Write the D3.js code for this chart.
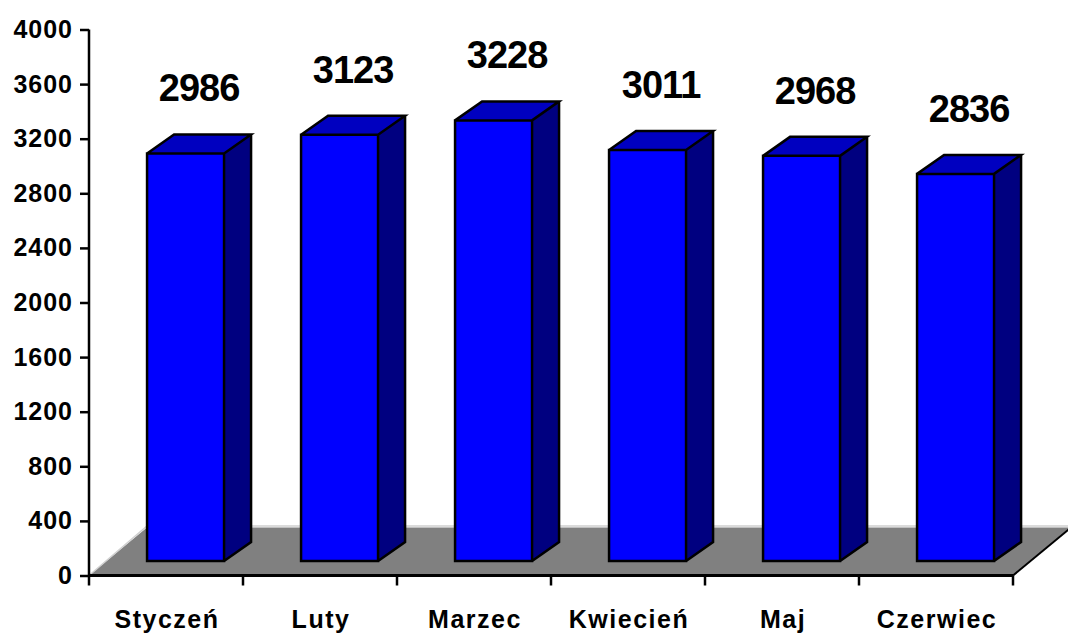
<!DOCTYPE html>
<html>
<head>
<meta charset="utf-8">
<script src="https://cdn.jsdelivr.net/npm/d3@7"></script>
<style>
  body { margin: 0; background: #fff; }
  text { font-family: Arial, "Liberation Sans", sans-serif; font-weight: bold; }
</style>
</head>
<body>
<div id="chart"></div>
<script>
// data
const months = ["Styczeń", "Luty", "Marzec", "Kwiecień", "Maj", "Czerwiec"];
const values = [2986, 3123, 3228, 3011, 2968, 2836];
const yTicks = [0, 400, 800, 1200, 1600, 2000, 2400, 2800, 3200, 3600, 4000];

const width = 1068, height = 635;

// 3d look
const floorDepth = { dx: 58, dy: -48 };
const barDepth = { dx: 27, dy: -19 };
const barLift = 14.5; // bars sit back from the front edge of the floor

const svg = d3.select("#chart").append("svg")
  .attr("width", width)
  .attr("height", height);

const x = d3.scaleBand()
  .domain(months)
  .range([89, 1013])
  .padding(0);

const y = d3.scaleLinear()
  .domain([0, 4000])
  .range([575.5, 29.5]);

// floor
const x0 = x.range()[0], x1 = x.range()[1], y0 = y(0);
svg.append("polygon")
  .attr("points", [
    [x0, y0], [x1, y0],
    [x1 + floorDepth.dx, y0 + floorDepth.dy],
    [x0 + floorDepth.dx, y0 + floorDepth.dy]
  ].join(" "))
  .attr("fill", "#808080");

// light back/left edges of the floor
svg.append("path")
  .attr("d", `M${x0},${y0} L${x0 + floorDepth.dx},${y0 + floorDepth.dy - 1.5} L${x1 + floorDepth.dx},${y0 + floorDepth.dy - 1.5}`)
  .attr("fill", "none")
  .attr("stroke", "#d0d0d0")
  .attr("stroke-width", 1.5);

// right edge of the floor
svg.append("line")
  .attr("x1", x1).attr("y1", y0)
  .attr("x2", x1 + floorDepth.dx).attr("y2", y0 + floorDepth.dy)
  .attr("stroke", "#000")
  .attr("stroke-width", 2);

// bars
const barOff = x.bandwidth() * 0.377, barW = x.bandwidth() * 0.5;
const bars = svg.append("g")
  .selectAll("g")
  .data(months.map((m, i) => ({ m, v: values[i] })))
  .join("g");

bars.each(function (d) {
  const g = d3.select(this);
  const l = x(d.m) + barOff, r = l + barW;
  const b = y(0) - barLift, t = y(d.v) - barLift;
  const { dx, dy } = barDepth;

  // side
  g.append("polygon")
    .attr("points", [[r, b], [r + dx, b + dy], [r + dx, t + dy], [r, t]].join(" "))
    .attr("fill", "#000080");
  // top
  g.append("polygon")
    .attr("points", [[l, t], [r, t], [r + dx, t + dy], [l + dx, t + dy]].join(" "))
    .attr("fill", "#0000c0");
  // front
  g.append("rect")
    .attr("x", l).attr("y", t)
    .attr("width", barW).attr("height", b - t)
    .attr("fill", "#0000ff");

  // outline
  g.append("path")
    .attr("d", `M${l},${b} L${r},${b} L${r},${t} L${l},${t} Z
      M${l},${t} L${l + dx},${t + dy} L${r + dx},${t + dy} L${r},${t}
      M${r + dx},${t + dy} L${r + dx},${b + dy} L${r},${b}`)
    .attr("fill", "none")
    .attr("stroke", "#000")
    .attr("stroke-width", 2.5)
    .attr("stroke-linejoin", "miter");

  // value label
  g.append("text")
    .attr("x", l + barW / 2 + dx / 2)
    .attr("y", t - 52)
    .attr("text-anchor", "middle")
    .style("font-size", "38px")
    .style("letter-spacing", "-1px")
    .text(d.v);
});

// y axis
const yAxis = svg.append("g")
  .attr("transform", `translate(${x0},0)`)
  .call(d3.axisLeft(y).tickValues(yTicks).tickSize(9).tickPadding(8).tickFormat(d3.format("d")));
yAxis.select(".domain").attr("stroke-width", 2.5).attr("d", `M0,${y(4000)} V${y(0)}`);
yAxis.selectAll(".tick line").attr("stroke-width", 2.5);
yAxis.selectAll(".tick text")
  .style("font-size", "25px")
  .style("letter-spacing", "1px")
  .attr("dx", "1px")
  .attr("fill", "#000");

// x axis
const xAxis = svg.append("g");
xAxis.append("line")
  .attr("x1", x0).attr("x2", x1)
  .attr("y1", y0).attr("y2", y0)
  .attr("stroke", "#000")
  .attr("stroke-width", 3);

const bounds = months.map(m => x(m)).concat([x1]);
xAxis.selectAll(".xtick")
  .data(bounds)
  .join("line")
  .attr("x1", d => d).attr("x2", d => d)
  .attr("y1", y0).attr("y2", y0 + 10)
  .attr("stroke", "#000")
  .attr("stroke-width", 2.5);

xAxis.selectAll(".xlabel")
  .data(months)
  .join("text")
  .attr("x", d => x(d) + x.bandwidth() / 2 + 1)
  .attr("y", 628)
  .attr("text-anchor", "middle")
  .style("font-size", "25px")
  .style("letter-spacing", "1.5px")
  .text(d => d);
</script>
</body>
</html>
